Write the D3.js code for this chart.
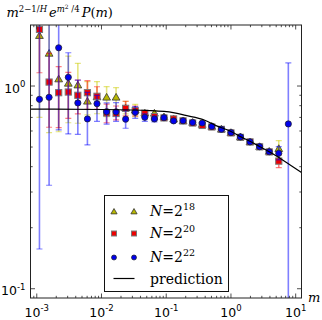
<!DOCTYPE html>
<html><head><meta charset="utf-8">
<script src="https://cdn.jsdelivr.net/npm/d3@7"></script>
<style>html,body{margin:0;padding:0;background:#fff;}svg{display:block;}</style>
</head><body>
<script>
// ---- data ----
const mVals = [0.0011, 0.00155, 0.00218, 0.00307, 0.00431, 0.00606, 0.00852, 0.0120, 0.0168, 0.0236,
  0.0332, 0.0467, 0.0657, 0.0923, 0.130, 0.182, 0.256, 0.360, 0.506, 0.712,
  1.00, 1.40, 1.97, 2.77, 3.90, 5.48, 7.70];

const n18Val = [1.773, 1.449, 1.083, 1.031, 1.011, 0.841, 0.883, 0.880, 0.880, 0.779,
  0.762, 0.736, 0.734, 0.704, 0.688, 0.673, 0.661, 0.646, 0.632, 0.612,
  0.589, 0.561, 0.530, 0.502, 0.476, 0.491, null];
const n18Lo = [0.701, 0.589, 0.595, 0.659, 0.655, 0.720, 0.730, 0.706, 0.728, 0.728,
  0.706, 0.712, 0.712, 0.690, 0.676, 0.662, 0.650, 0.636, 0.622, 0.603,
  0.580, 0.553, 0.522, 0.494, 0.466, 0.442, null];
const n18Hi = [3.0, 3.0, 1.55, 1.405, 1.294, 1.050, 1.052, 0.994, 0.983, 0.839,
  0.812, 0.757, 0.757, 0.718, 0.700, 0.684, 0.672, 0.656, 0.642, 0.621,
  0.598, 0.569, 0.538, 0.510, 0.486, 0.538, null];

const n20Val = [1.902, 1.046, 0.927, 0.934, 0.900, 0.927, 0.890, 0.736, 0.732, 0.776,
  0.756, 0.734, 0.706, 0.696, 0.688, 0.673, 0.657, 0.639, 0.628, 0.611,
  0.587, 0.558, 0.530, 0.501, 0.473, 0.426, null];
const n20Lo = [1.163, 0.626, 0.623, 0.693, 0.728, 0.768, 0.768, 0.659, 0.680, 0.712,
  0.712, 0.712, 0.690, 0.684, 0.680, 0.666, 0.650, 0.632, 0.621, 0.605,
  0.581, 0.552, 0.524, 0.494, 0.465, 0.396, null];
const n20Hi = [3.0, 1.449, 1.247, 1.168, 1.070, 1.062, 0.992, 0.815, 0.797, 0.841,
  0.797, 0.757, 0.722, 0.708, 0.697, 0.680, 0.664, 0.646, 0.635, 0.617,
  0.593, 0.564, 0.536, 0.508, 0.481, 0.457, null];

const n22Val = [0.860, 0.880, 1.544, 1.104, 0.825, 0.688, 0.818, 0.747, 0.746, 0.686,
  0.742, 0.701, 0.688, 0.698, 0.673, 0.674, 0.661, 0.657, 0.632, 0.612,
  0.589, 0.561, 0.530, 0.502, 0.474, 0.466, 0.650];
const n22Lo = [0.157, 0.324, 0.607, 0.580, 0.578, 0.512, 0.670, 0.648, 0.670, 0.619,
  0.693, 0.670, 0.665, 0.684, 0.662, 0.664, 0.652, 0.647, 0.624, 0.604,
  0.581, 0.553, 0.523, 0.495, 0.467, 0.432, 0.05];
const n22Hi = [3.0, 3.0, 3.0, 1.459, 1.070, 0.930, 0.900, 0.825, 0.828, 0.762,
  0.791, 0.730, 0.710, 0.712, 0.684, 0.684, 0.670, 0.667, 0.640, 0.620,
  0.597, 0.569, 0.537, 0.509, 0.481, 0.502, 1.30];

const predM = [0.0008, 0.01, 0.056, 0.128, 0.2, 0.386, 0.6, 1.0, 1.4, 2.0, 2.8, 3.9, 5.5, 8.0, 12.3];
const predV = [0.770, 0.766, 0.756, 0.739, 0.716, 0.680, 0.636, 0.597, 0.563, 0.533, 0.502, 0.474, 0.444, 0.410, 0.374];

const xMajor = [1e-3, 1e-2, 1e-1, 1, 10];
const xMajorLabels = ["-3", "-2", "-1", "0", "1"];
const yMajor = [0.1, 1];
const yMajorLabels = ["-1", "0"];
const legendLabels = ["18", "20", "22"];

// ---- drawing ----
const W = 322, H = 320;
const L = 30.5, R = 301.5, T = 25, B = 298;
const svg = d3.select("body").append("svg").attr("width", W).attr("height", H);

const x = d3.scaleLog().domain([8e-4, 12.3]).range([L, R]);
const y = d3.scaleLog().domain([0.09, 2]).range([B, T]);

svg.append("defs").append("clipPath").attr("id", "clip")
  .append("rect").attr("x", L).attr("y", T).attr("width", R - L).attr("height", B - T);

const plot = svg.append("g").attr("clip-path", "url(#clip)");

const series = [
  {val: n18Val, lo: n18Lo, hi: n18Hi, bar: "#cccc00", fill: "#b8b800", shape: "tri"},
  {val: n20Val, lo: n20Lo, hi: n20Hi, bar: "#ff0000", fill: "#ee0000", shape: "sq"},
  {val: n22Val, lo: n22Lo, hi: n22Hi, bar: "#0000ff", fill: "#0000ee", shape: "circ"}
];

function drawMarker(g, shape, cx, cy, fill, scale) {
  scale = scale || 1;
  if (shape === "tri") {
    g.append("path").attr("d", d3.symbol(d3.symbolTriangle, 26 * scale * scale)())
      .attr("transform", `translate(${cx},${cy + 0.6})`)
      .attr("fill", fill).attr("stroke", "#333").attr("stroke-width", 0.8);
  } else if (shape === "sq") {
    const s = 6.2 * scale;
    g.append("rect").attr("x", cx - s / 2).attr("y", cy - s / 2).attr("width", s).attr("height", s)
      .attr("fill", fill).attr("stroke", "#777").attr("stroke-width", 1);
  } else {
    g.append("circle").attr("cx", cx).attr("cy", cy).attr("r", 3.1 * scale)
      .attr("fill", fill).attr("stroke", "#223").attr("stroke-width", 0.8);
  }
}

series.forEach(s => {
  const g = plot.append("g");
  mVals.forEach((m, i) => {
    if (s.val[i] == null) return;
    const cx = x(m);
    const y1 = y(s.hi[i]), y2 = y(s.lo[i]);
    g.append("line").attr("x1", cx).attr("x2", cx).attr("y1", y1).attr("y2", y2)
      .attr("stroke", s.bar).attr("stroke-opacity", 0.5).attr("stroke-width", 1.6);
    [y1, y2].forEach(yy => g.append("line").attr("x1", cx - 3).attr("x2", cx + 3)
      .attr("y1", yy).attr("y2", yy).attr("stroke", s.bar).attr("stroke-opacity", 0.5).attr("stroke-width", 1.2));
  });
  mVals.forEach((m, i) => {
    if (s.val[i] == null) return;
    drawMarker(g, s.shape, x(m), y(s.val[i]), s.fill);
  });
});

// prediction line
const predData = predM.map((m, i) => [m, predV[i]]);
plot.append("path").datum(predData)
  .attr("d", d3.line().x(d => x(d[0])).y(d => y(d[1])).curve(d3.curveMonotoneX))
  .attr("fill", "none").attr("stroke", "#000").attr("stroke-width", 1.2);

// frame
svg.append("rect").attr("x", L).attr("y", T).attr("width", R - L).attr("height", B - T)
  .attr("fill", "none").attr("stroke", "#222").attr("stroke-width", 1);

// ticks
const tg = svg.append("g").attr("stroke", "#222").attr("stroke-width", 0.8);
function xMinor() {
  const out = [];
  for (let e = -4; e <= 1; e++) for (let k = 2; k <= 9; k++) {
    const v = k * Math.pow(10, e);
    if (v > x.domain()[0] && v < x.domain()[1]) out.push(v);
  }
  return out;
}
function yMinor() {
  const out = [];
  for (let e = -2; e <= 0; e++) for (let k = 2; k <= 9; k++) {
    const v = k * Math.pow(10, e);
    if (v > y.domain()[0] && v < y.domain()[1]) out.push(v);
  }
  return out;
}
xMajor.forEach(v => {
  const px = x(v);
  tg.append("line").attr("x1", px).attr("x2", px).attr("y1", B).attr("y2", B - 4.5);
  tg.append("line").attr("x1", px).attr("x2", px).attr("y1", T).attr("y2", T + 4.5);
});
xMinor().forEach(v => {
  const px = x(v);
  tg.append("line").attr("x1", px).attr("x2", px).attr("y1", B).attr("y2", B - 2.2);
  tg.append("line").attr("x1", px).attr("x2", px).attr("y1", T).attr("y2", T + 2.2);
});
yMajor.forEach(v => {
  const py = y(v);
  tg.append("line").attr("x1", L).attr("x2", L + 4.5).attr("y1", py).attr("y2", py);
  tg.append("line").attr("x1", R).attr("x2", R - 4.5).attr("y1", py).attr("y2", py);
});
yMinor().forEach(v => {
  const py = y(v);
  tg.append("line").attr("x1", L).attr("x2", L + 2.2).attr("y1", py).attr("y2", py);
  tg.append("line").attr("x1", R).attr("x2", R - 2.2).attr("y1", py).attr("y2", py);
});

// tick labels
const sans = "'DejaVu Sans', sans-serif";
xMajor.forEach((v, i) => {
  const t = svg.append("text").attr("x", x(v)).attr("y", 316.5).attr("text-anchor", "middle")
    .attr("font-family", sans).attr("font-size", 12.5).attr("fill", "#000");
  t.append("tspan").text("10");
  t.append("tspan").attr("font-size", 8.5).attr("dy", -5.5).text(xMajorLabels[i]);
});
yMajor.forEach((v, i) => {
  const t = svg.append("text").attr("x", 25.5).attr("y", y(v) + 6.5).attr("text-anchor", "end")
    .attr("font-family", sans).attr("font-size", 12.5).attr("fill", "#000");
  t.append("tspan").text("10");
  t.append("tspan").attr("font-size", 8.5).attr("dy", -5.5).text(yMajorLabels[i]);
});

// axis labels
const serif = "'DejaVu Serif', serif";
const yl = svg.append("text").attr("x", 6.5).attr("y", 16.5).attr("font-family", serif)
  .attr("font-size", 13).attr("fill", "#000");
yl.append("tspan").attr("font-style", "italic").text("m");
yl.append("tspan").attr("font-size", 8.5).attr("dy", -5).text("2\u22121/");
yl.append("tspan").attr("font-size", 8.5).attr("font-style", "italic").text("H");
yl.append("tspan").attr("dy", 5).attr("dx", 2).attr("font-style", "italic").text("e");
yl.append("tspan").attr("font-size", 8.5).attr("dy", -5).attr("font-style", "italic").text("m");
yl.append("tspan").attr("font-size", 6).attr("dy", -3).text("2");
yl.append("tspan").attr("font-size", 8.5).attr("dy", 3).text(" /4");
yl.append("tspan").attr("dy", 5).attr("dx", 2).attr("font-style", "italic").text("P");
yl.append("tspan").text("(");
yl.append("tspan").attr("font-style", "italic").text("m");
yl.append("tspan").text(")");

svg.append("text").attr("x", 308).attr("y", 301.5).attr("font-family", serif)
  .attr("font-style", "italic").attr("font-size", 13).attr("fill", "#000").text("m");

// legend
const lg = svg.append("g");
lg.append("rect").attr("x", 104.5).attr("y", 195.5).attr("width", 124).attr("height", 96)
  .attr("fill", "#fff").attr("stroke", "#111").attr("stroke-width", 1);
const legY = [211.5, 233.5, 257.5];
series.forEach((s, i) => {
  [114, 134].forEach(cx => drawMarker(lg, s.shape, cx, legY[i], s.fill, 0.8));
  const t = lg.append("text").attr("x", 150).attr("y", legY[i] + 4.5).attr("font-family", serif)
    .attr("font-size", 14).attr("fill", "#000");
  t.append("tspan").attr("font-style", "italic").text("N");
  t.append("tspan").text("=2");
  t.append("tspan").attr("font-size", 9.5).attr("dy", -6).text(legendLabels[i]);
});
lg.append("line").attr("x1", 113.5).attr("x2", 134.5).attr("y1", 278.5).attr("y2", 278.5)
  .attr("stroke", "#000").attr("stroke-width", 1.2);
lg.append("text").attr("x", 150).attr("y", 283.5).attr("font-family", serif)
  .attr("font-size", 14).attr("fill", "#000").text("prediction");
</script>
</body></html>
